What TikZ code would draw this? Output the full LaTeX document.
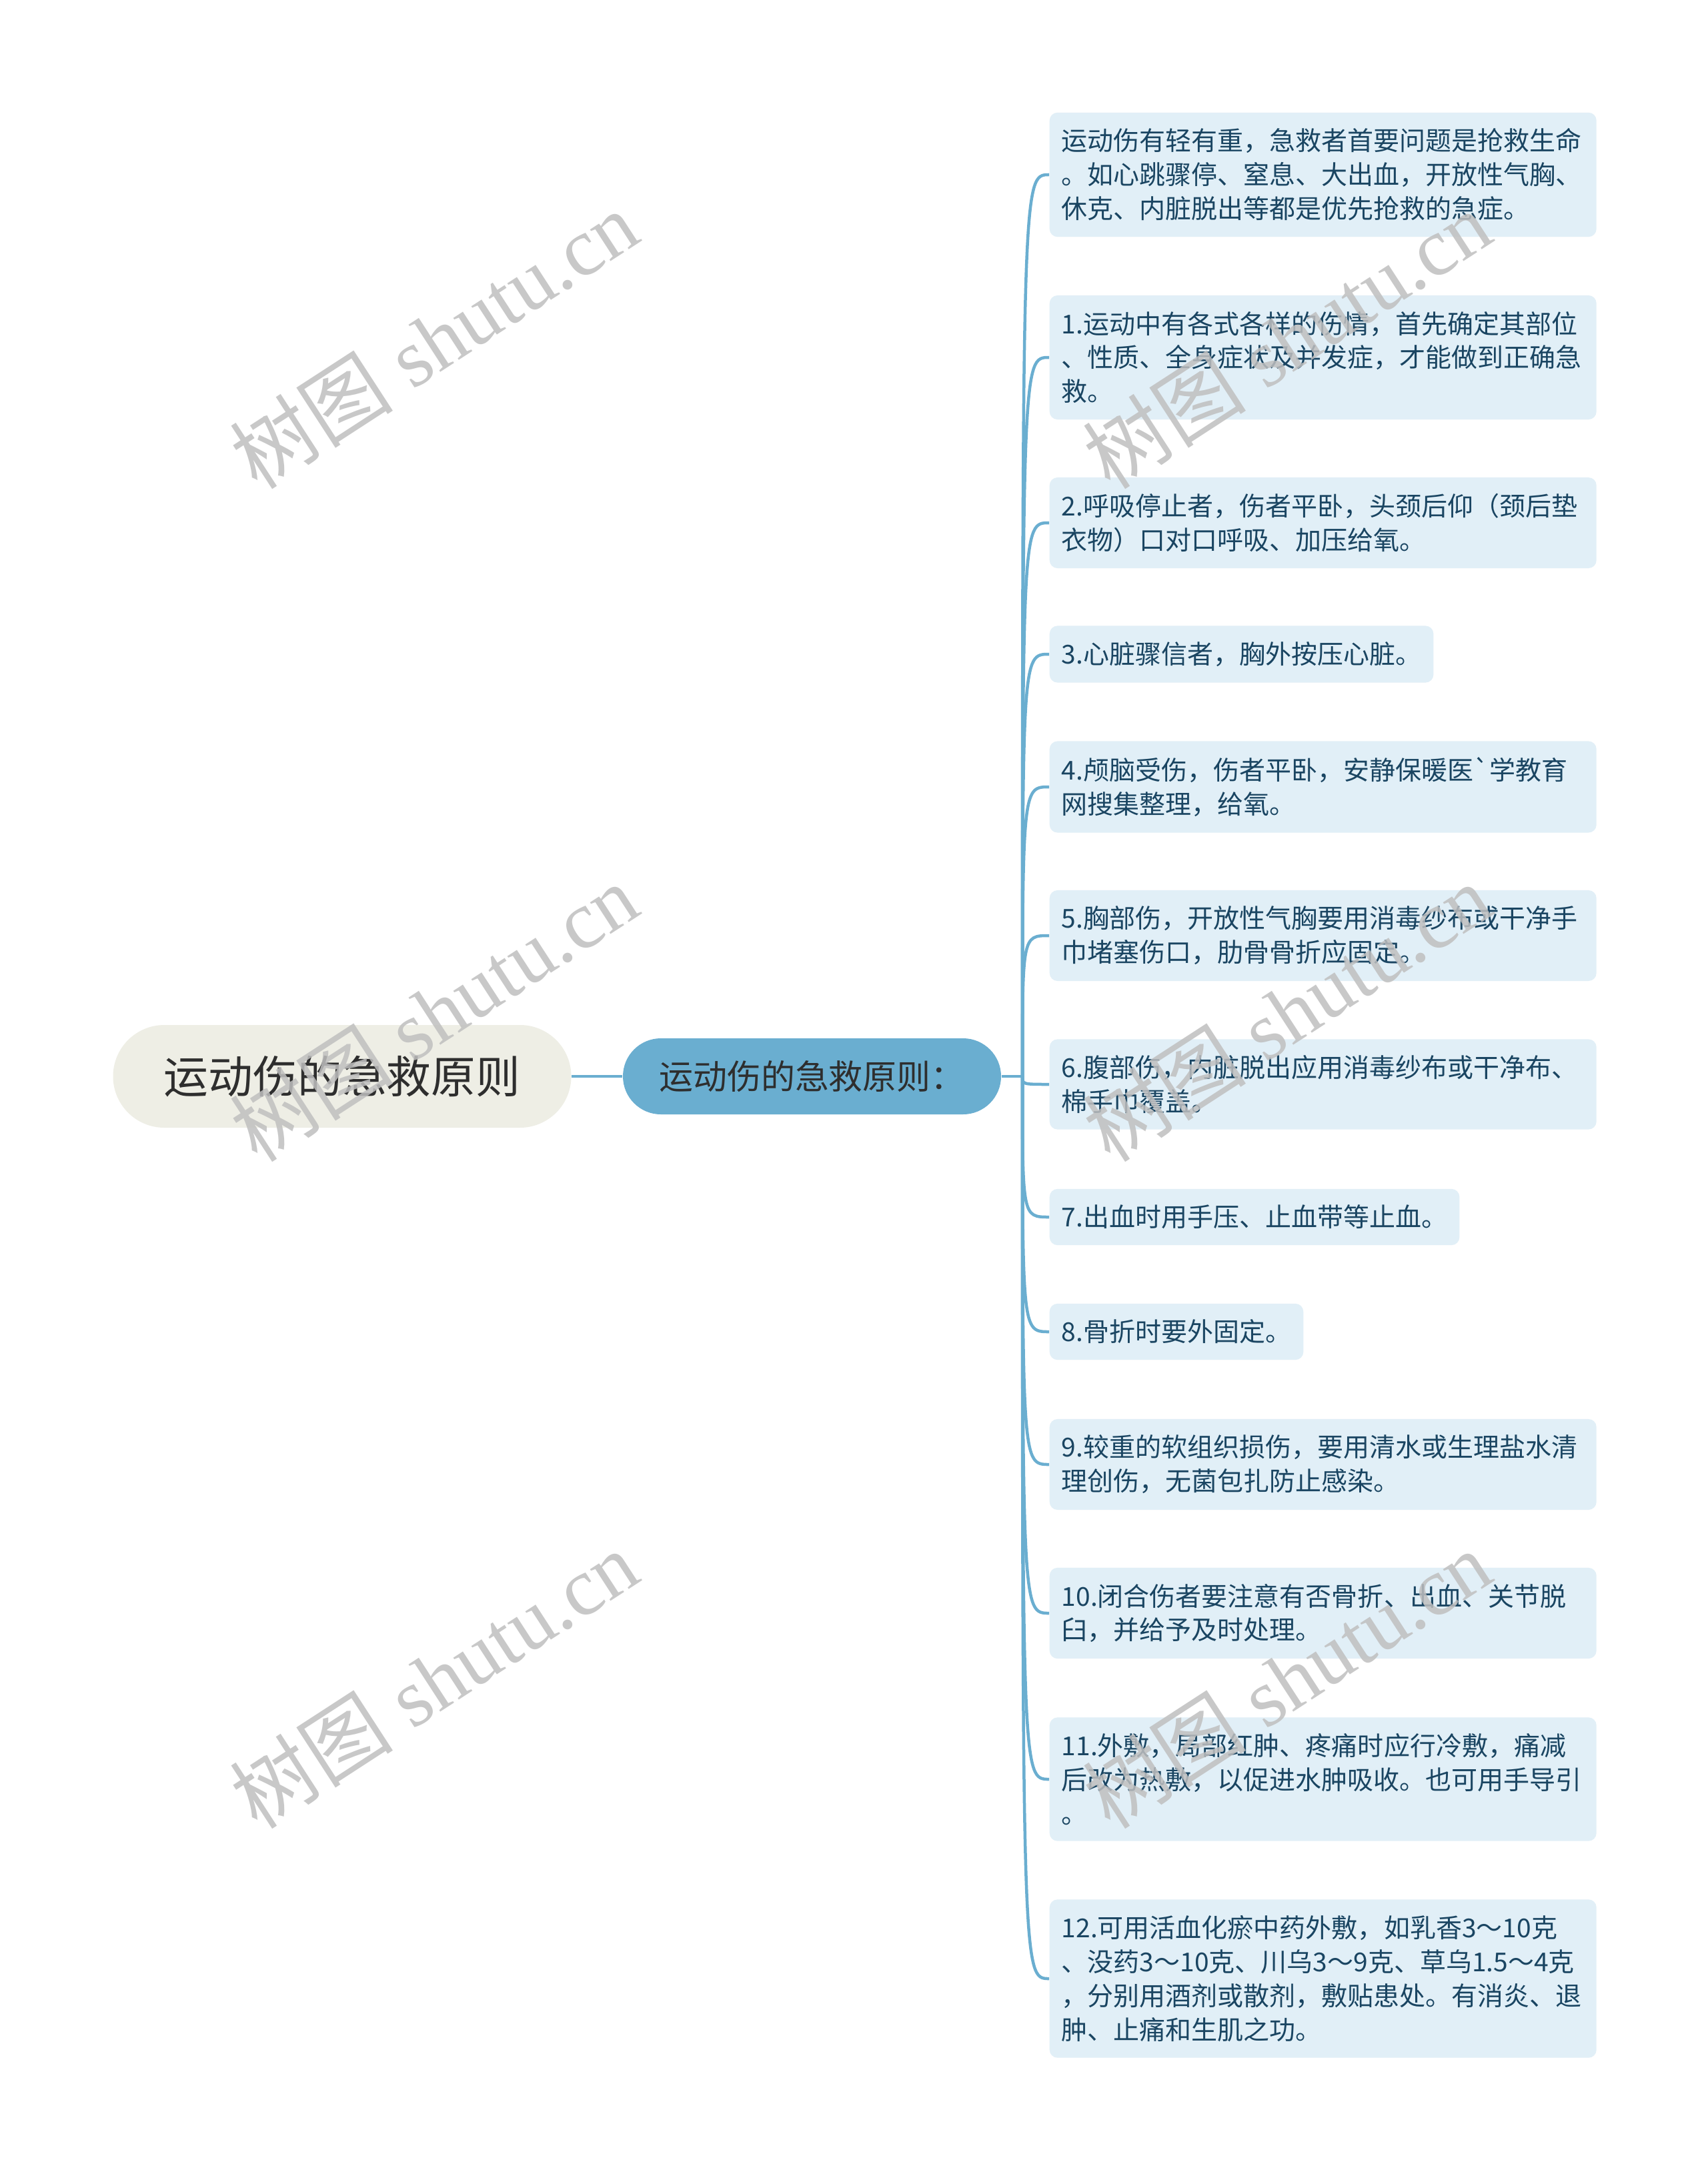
\documentclass[tikz,border=0pt]{standalone}
\usepackage{fontspec}
\usetikzlibrary{positioning, calc}
\newfontfamily\cjk{Noto Sans CJK SC}
\newfontfamily\wmfont{Liberation Serif}
\definecolor{linkblue}{HTML}{6AAED0}
\definecolor{rootfill}{HTML}{EEEEE5}
\definecolor{leaffill}{HTML}{E1EFF7}
\definecolor{leaftext}{HTML}{1A4562}
\definecolor{darktext}{HTML}{2E2E2E}

\begin{document}
\begin{tikzpicture}[
                    link/.style={draw=linkblue, line width=0.045cm},
                    rootbox/.style={fill=rootfill, text=darktext, rounded corners=0.77cm, minimum width=6.87cm, minimum height=1.54cm, inner sep=0pt, font=\cjk\fontsize{19pt}{23pt}\selectfont},
                    subbox/.style={fill=linkblue, text=darktext, rounded corners=0.57cm, minimum width=5.67cm, minimum height=1.14cm, inner sep=0pt, font=\cjk\fontsize{14.5pt}{17pt}\selectfont},
                    leaf/.style={anchor=west, fill=leaffill, text=leaftext, rounded corners=0.12cm, inner xsep=0.18cm, inner ysep=0.24cm, align=left, font=\cjk\fontsize{11.1pt}{14.5pt}\selectfont},
                    wide/.style={leaf, text width=7.84cm},
                    wmark/.style={rotate=33, text=black!25, opacity=0.85, font=\wmfont\fontsize{35pt}{35pt}\selectfont},
                ]
                \useasboundingbox (0,0) rectangle (25.6,-32.51);
                \fill[white] (0,0) rectangle (25.6,-32.51);

                \node[rootbox] (z) at (5.13,-16.14) {运动伤的急救原则};
                \node[subbox] (y) at (12.175,-16.14) {运动伤的急救原则：};
                \coordinate (j) at (15.33,-16.14);

                % leaves
                \node[wide] (a) at (15.73,-2.62) {运动伤有轻有重，急救者首要问题是抢救生命\\。如心跳骤停、窒息、大出血，开放性气胸、\\休克、内脏脱出等都是优先抢救的急症。};
                \node[wide] (b) at (15.73,-5.36) {1.运动中有各式各样的伤情，首先确定其部位\\、性质、全身症状及并发症，才能做到正确急\\救。};
                \node[wide] (c) at (15.73,-7.84) {2.呼吸停止者，伤者平卧，头颈后仰（颈后垫\\衣物）口对口呼吸、加压给氧。};
                \node[leaf] (d) at (15.73,-9.81) {3.心脏骤信者，胸外按压心脏。};
                \node[wide] (e) at (15.73,-11.80) {4.颅脑受伤，伤者平卧，安静保暖医`学教育\\网搜集整理，给氧。};
                \node[wide] (f) at (15.73,-14.03) {5.胸部伤，开放性气胸要用消毒纱布或干净手\\巾堵塞伤口，肋骨骨折应固定。};
                \node[wide] (g) at (15.73,-16.26) {6.腹部伤，内脏脱出应用消毒纱布或干净布、\\棉手巾覆盖。};
                \node[leaf] (h) at (15.73,-18.25) {7.出血时用手压、止血带等止血。};
                \node[leaf] (i) at (15.73,-19.97) {8.骨折时要外固定。};
                \node[wide] (k) at (15.73,-21.96) {9.较重的软组织损伤，要用清水或生理盐水清\\理创伤，无菌包扎防止感染。};
                \node[wide] (l) at (15.73,-24.19) {10.闭合伤者要注意有否骨折、出血、关节脱\\臼，并给予及时处理。};
                \node[wide] (m) at (15.73,-26.68) {11.外敷，局部红肿、疼痛时应行冷敷，痛减\\后改为热敷，以促进水肿吸收。也可用手导引\\。};
                \node[wide] (n) at (15.73,-29.67) {12.可用活血化瘀中药外敷，如乳香3～10克\\、没药3～10克、川乌3～9克、草乌1.5～4克\\，分别用酒剂或散剂，敷贴患处。有消炎、退\\肿、止痛和生肌之功。};

                % connectors
                \draw[link] (z) -- (y);
                \draw[link] (y) -- (j);
                \draw[link] (j) .. controls (j |- a.west) and (j |- a.west) .. (a.west);
                \draw[link] (j) .. controls (j |- b.west) and (j |- b.west) .. (b.west);
                \draw[link] (j) .. controls (j |- c.west) and (j |- c.west) .. (c.west);
                \draw[link] (j) .. controls (j |- d.west) and (j |- d.west) .. (d.west);
                \draw[link] (j) .. controls (j |- e.west) and (j |- e.west) .. (e.west);
                \draw[link] (j) .. controls (j |- f.west) and (j |- f.west) .. (f.west);
                \draw[link] (j) .. controls (j |- g.west) and (j |- g.west) .. (g.west);
                \draw[link] (j) .. controls (j |- h.west) and (j |- h.west) .. (h.west);
                \draw[link] (j) .. controls (j |- i.west) and (j |- i.west) .. (i.west);
                \draw[link] (j) .. controls (j |- k.west) and (j |- k.west) .. (k.west);
                \draw[link] (j) .. controls (j |- l.west) and (j |- l.west) .. (l.west);
                \draw[link] (j) .. controls (j |- m.west) and (j |- m.west) .. (m.west);
                \draw[link] (j) .. controls (j |- n.west) and (j |- n.west) .. (n.west);

                % watermarks
                \node[wmark] (w1) at (6.50,-5.09) {{\cjk 树图} shutu.cn};
                \node[wmark] (w2) at (6.50,-15.18) {{\cjk 树图} shutu.cn};
                \node[wmark] (w3) at (6.50,-25.18) {{\cjk 树图} shutu.cn};
                \node[wmark] (w4) at (19.29,-5.09) {{\cjk 树图} shutu.cn};
                \node[wmark] (w5) at (19.29,-15.18) {{\cjk 树图} shutu.cn};
                \node[wmark] (w6) at (19.29,-25.18) {{\cjk 树图} shutu.cn};
\end{tikzpicture}
\end{document}
